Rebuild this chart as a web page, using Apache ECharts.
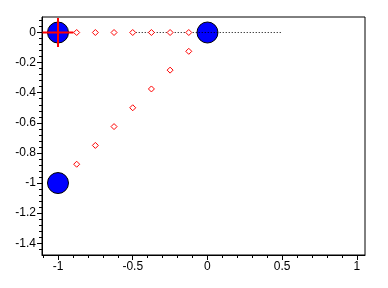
<!DOCTYPE html>
<html>
<head>
<meta charset="utf-8">
<script src="https://cdn.jsdelivr.net/npm/echarts@6/dist/echarts.min.js"></script>
<style>html,body{margin:0;padding:0;background:#fff}#c{width:388px;height:288px}</style>
</head>
<body>
<div id="c"></div>
<script>
// Data
const bigCircles = [[-1, 0], [0, 0], [-1, -1]];
const dottedLine = [[-0.5, 0], [0.5, 0]];
const diamondsRow = [[-0.875, 0], [-0.75, 0], [-0.625, 0], [-0.5, 0], [-0.375, 0], [-0.25, 0], [-0.125, 0]];
const diamondsDiag = [[-0.875, -0.875], [-0.75, -0.75], [-0.625, -0.625], [-0.5, -0.5], [-0.375, -0.375], [-0.25, -0.25], [-0.125, -0.125]];
const crossPoint = [[-1, 0]];
const xTickLabels = [-1, -0.5, 0, 0.5, 1];
const yTickLabels = [0, -0.2, -0.4, -0.6, -0.8, -1, -1.2, -1.4];
const xMinorTicks = [-1.1, -1, -0.9, -0.8, -0.7, -0.6, -0.5, -0.4, -0.3, -0.2, -0.1, 0, 0.1, 0.2, 0.3, 0.4, 0.5, 0.6, 0.7, 0.8, 0.9, 1];
const yMinorTicks = [0.08, 0.04, 0, -0.04, -0.08, -0.12, -0.16, -0.2, -0.24, -0.28, -0.32, -0.36, -0.4, -0.44, -0.48, -0.52, -0.56, -0.6, -0.64, -0.68, -0.72, -0.76, -0.8, -0.84, -0.88, -0.92, -0.96, -1, -1.04, -1.08, -1.12, -1.16, -1.2, -1.24, -1.28, -1.32, -1.36, -1.4, -1.44];

const X_MIN = -1.107, X_MAX = 1.054, Y_MIN = -1.478, Y_MAX = 0.103;
const font = {color: '#000', fontFamily: 'Liberation Sans, Arial, sans-serif', fontSize: 12};

const chart = echarts.init(document.getElementById('c'), null, {renderer: 'canvas'});
chart.setOption({
  animation: false,
  grid: {left: 42, top: 17, right: 23, bottom: 33, show: true, borderColor: '#000', borderWidth: 1, backgroundColor: 'transparent'},
  xAxis: [
    {type: 'value', min: X_MIN, max: X_MAX, position: 'bottom',
     axisLine: {show: true, onZero: false, lineStyle: {color: '#000', width: 1}},
     axisTick: {show: true, customValues: xTickLabels, length: 5, lineStyle: {color: '#000'}},
     axisLabel: {show: true, customValues: xTickLabels, margin: 6, formatter: v => String(v), ...font},
     splitLine: {show: false}},
    {type: 'value', min: X_MIN, max: X_MAX, position: 'bottom',
     axisLine: {show: false, onZero: false},
     axisTick: {show: true, customValues: xMinorTicks, length: 3, lineStyle: {color: '#000'}},
     axisLabel: {show: false}, splitLine: {show: false}}
  ],
  yAxis: [
    {type: 'value', min: Y_MIN, max: Y_MAX, position: 'left',
     axisLine: {show: true, onZero: false, lineStyle: {color: '#000', width: 1}},
     axisTick: {show: true, customValues: yTickLabels, length: 5, lineStyle: {color: '#000'}},
     axisLabel: {show: true, customValues: yTickLabels, margin: 6, formatter: v => String(v), ...font},
     splitLine: {show: false}},
    {type: 'value', min: Y_MIN, max: Y_MAX, position: 'left',
     axisLine: {show: false, onZero: false},
     axisTick: {show: true, customValues: yMinorTicks, length: 3, lineStyle: {color: '#000'}},
     axisLabel: {show: false}, splitLine: {show: false}}
  ],
  series: [
    {type: 'scatter', data: bigCircles, symbol: 'circle', symbolSize: 21, z: 2,
     itemStyle: {color: '#0000ff', borderColor: '#000', borderWidth: 1, opacity: 1}},
    {type: 'line', data: dottedLine, showSymbol: false, symbol: 'none', z: 3,
     lineStyle: {color: '#000', width: 1, type: [1, 2]}},
    {type: 'scatter', data: diamondsRow.concat(diamondsDiag), symbol: 'diamond', symbolSize: 6, z: 4,
     itemStyle: {color: '#fff', borderColor: '#ff0000', borderWidth: 1, opacity: 1}},
    {type: 'scatter', data: crossPoint, z: 5,
     symbol: 'path://M0,14 L31,14 L31,16 L0,16 Z M14.5,0 L16.5,0 L16.5,30 L14.5,30 Z',
     symbolSize: [31, 30], symbolKeepAspect: true,
     itemStyle: {color: '#ff0000', opacity: 1}}
  ]
});
</script>
</body>
</html>
